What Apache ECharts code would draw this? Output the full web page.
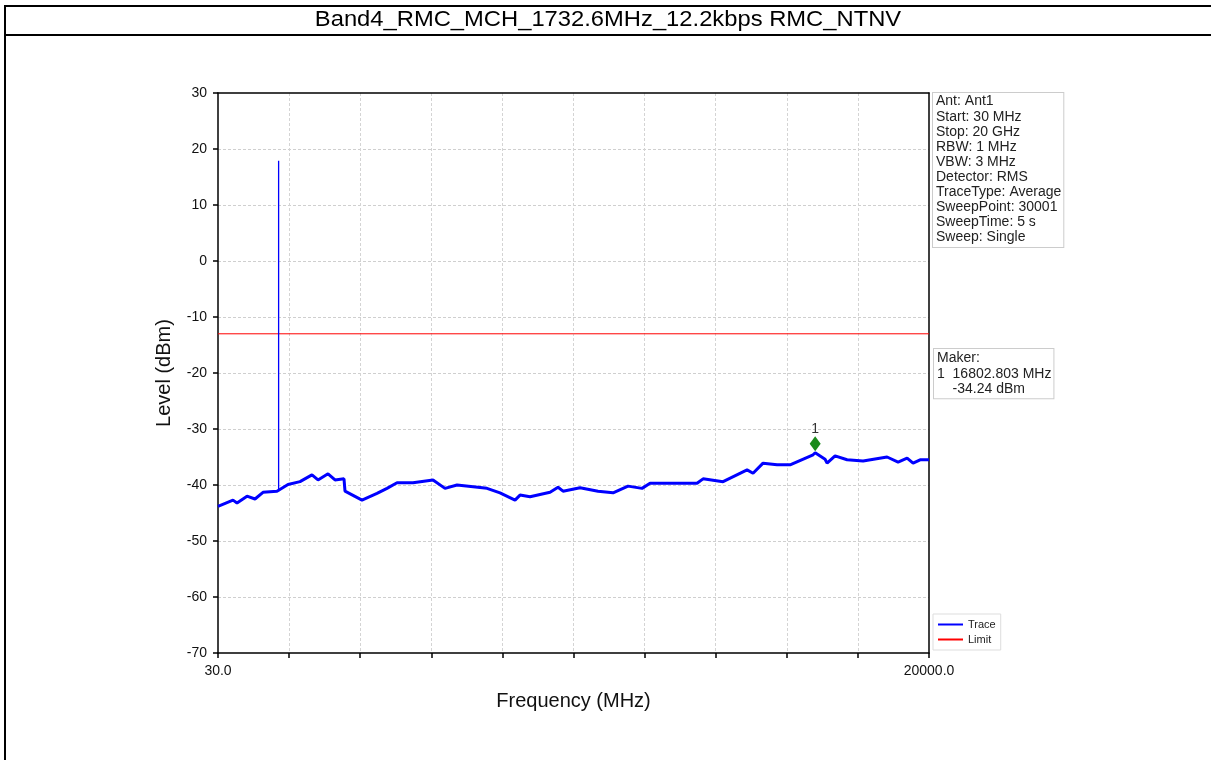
<!DOCTYPE html>
<html>
<head>
<meta charset="utf-8">
<script src="https://cdn.jsdelivr.net/npm/echarts@6/dist/echarts.min.js"></script>
<style>
html,body{margin:0;padding:0;background:#fff;}
#chart{width:1211px;height:760px;}
</style>
</head>
<body>
<div id="chart"></div>
<script>
const titleText = 'Band4_RMC_MCH_1732.6MHz_12.2kbps RMC_NTNV';
const freq = [30, 451, 564, 845, 1069, 1294, 1687, 1996, 2333, 2670, 2839, 3120, 3317, 3569, 3597, 4075, 4496, 4777, 5058, 5507, 6069, 6406, 6743, 7586, 7951, 8373, 8513, 8794, 9356, 9581, 9721, 10199, 10704, 11126, 11547, 11940, 12165, 13485, 13654, 14216, 14890, 15058, 15339, 15733, 16098, 16744, 16803, 17081, 17137, 17362, 17699, 18149, 18823, 19132, 19385, 19553, 19750, 20000];
const level = [-43.8, -42.7, -43.2, -42.0, -42.5, -41.3, -41.1, -39.9, -39.4, -38.2, -39.1, -38.0, -39.1, -38.9, -41.1, -42.7, -41.5, -40.6, -39.6, -39.6, -39.1, -40.6, -40.0, -40.6, -41.4, -42.7, -41.8, -42.1, -41.3, -40.4, -41.1, -40.5, -41.1, -41.4, -40.2, -40.6, -39.7, -39.7, -38.9, -39.4, -37.3, -37.9, -36.1, -36.4, -36.4, -34.6, -34.24, -35.4, -36.1, -34.8, -35.5, -35.7, -35.0, -35.9, -35.2, -36.1, -35.5, -35.5];
const spikeFreq = [1732.6, 1732.6];
const spikeLevel = [-41.1, 17.9];
const limitFreq = [30, 20000];
const limitLevel = [-13, -13];
const markerFreq = 16802.803;
const markerLevel = -34.24;
const xTickLabels = ['30.0', '20000.0'];
const infoLines = ['Ant: Ant1', 'Start: 30 MHz', 'Stop: 20 GHz', 'RBW: 1 MHz', 'VBW: 3 MHz', 'Detector: RMS', 'TraceType: Average', 'SweepPoint: 30001', 'SweepTime: 5 s', 'Sweep: Single'];
const makerLines = ['Maker:', '1  16802.803 MHz', '    -34.24 dBm'];

const FONT = '"Liberation Sans", Arial, sans-serif';
const chart = echarts.init(document.getElementById('chart'));
const zip = (a, b) => a.map((v, i) => [v, b[i]]);

chart.setOption({
  animation: false,
  backgroundColor: '#fff',
  textStyle: { fontFamily: FONT },
  grid: { left: 218, right: 282, top: 93, bottom: 107, show: false, containLabel: false },
  legend: {
    left: 933, top: 614, orient: 'vertical', itemGap: 4, itemWidth: 25, itemHeight: 2, icon: 'rect',
    padding: [5, 5, 5, 5], borderColor: '#ddd', borderWidth: 1, backgroundColor: '#fff',
    textStyle: { fontFamily: FONT, fontSize: 11, color: '#222' },
    data: ['Trace', 'Limit']
  },
  xAxis: [
    { type: 'value', min: 30, max: 20000, show: false },
    {
      type: 'value', position: 'bottom', min: 0, max: 19970, interval: 1997,
      axisLine: { show: true, onZero: false, lineStyle: { color: '#000', width: 1.5 } },
      axisTick: { show: true, length: 5, lineStyle: { color: '#000', width: 1.5 } },
      splitLine: { show: true, showMinLine: false, showMaxLine: false, lineStyle: { color: '#d4d4d4', width: 1, type: [3, 2] } },
      axisLabel: {
        margin: 11, fontSize: 14, color: '#111', fontFamily: FONT, showMinLabel: true, showMaxLabel: true,
        formatter: v => v === 0 ? xTickLabels[0] : (v === 19970 ? xTickLabels[1] : '')
      },
      name: 'Frequency (MHz)', nameLocation: 'middle', nameGap: 38,
      nameTextStyle: { fontSize: 20, color: '#111', fontFamily: FONT }
    },
    {
      type: 'value', position: 'top', min: 0, max: 19970,
      axisLine: { show: true, onZero: false, lineStyle: { color: '#000', width: 1.5 } },
      axisTick: { show: false }, axisLabel: { show: false }, splitLine: { show: false }
    }
  ],
  yAxis: [
    {
      type: 'value', min: -70, max: 30, interval: 10,
      axisLine: { show: true, onZero: false, lineStyle: { color: '#000', width: 1.5 } },
      axisTick: { show: true, length: 5, lineStyle: { color: '#000', width: 1.5 } },
      splitLine: { show: true, showMinLine: false, showMaxLine: false, lineStyle: { color: '#cfcfcf', width: 1, type: [3, 2] } },
      axisLabel: { margin: 11, fontSize: 14, color: '#111', fontFamily: FONT },
      name: 'Level (dBm)', nameLocation: 'middle', nameGap: 44,
      nameTextStyle: { fontSize: 20, color: '#111', fontFamily: FONT }
    },
    {
      type: 'value', position: 'right', min: -70, max: 30,
      axisLine: { show: true, onZero: false, lineStyle: { color: '#000', width: 1.5 } },
      axisTick: { show: false }, axisLabel: { show: false }, splitLine: { show: false }
    }
  ],
  series: [
    {
      name: 'Limit', type: 'line', xAxisIndex: 0, data: zip(limitFreq, limitLevel), symbol: 'none',
      lineStyle: { color: '#ff0000', width: 1 }, itemStyle: { color: '#ff0000' }, z: 2
    },
    {
      name: 'Spike', type: 'line', xAxisIndex: 0, data: zip(spikeFreq, spikeLevel), symbol: 'none',
      lineStyle: { color: '#0000ff', width: 1.3 }, itemStyle: { color: '#0000ff' }, z: 3
    },
    {
      name: 'Trace', type: 'line', xAxisIndex: 0, data: zip(freq, level), symbol: 'none',
      lineStyle: { color: '#0000ff', width: 3 }, itemStyle: { color: '#0000ff' }, z: 4,
      markPoint: {
        symbol: 'diamond', symbolSize: [11, 15], symbolOffset: [0, -9],
        itemStyle: { color: '#1a8a1a' },
        label: { show: true, position: 'top', distance: 0, formatter: '1', color: '#333', fontSize: 14, fontFamily: FONT },
        data: [{ coord: [markerFreq, markerLevel] }]
      }
    }
  ],
  graphic: [
    { type: 'line', shape: { x1: 5, y1: 6, x2: 5, y2: 760 }, style: { stroke: '#000', lineWidth: 2 } },
    { type: 'line', shape: { x1: 4, y1: 6, x2: 1211, y2: 6 }, style: { stroke: '#000', lineWidth: 2 } },
    { type: 'line', shape: { x1: 4, y1: 35, x2: 1211, y2: 35 }, style: { stroke: '#000', lineWidth: 2 } },
    { type: 'text', x: 608, y: 20, scaleX: 1.08, style: { text: titleText, font: '22px "Liberation Sans", Arial, sans-serif', fill: '#000', align: 'center', verticalAlign: 'middle' } },
    { type: 'text', x: 933, y: 93, style: { text: infoLines.join('\n'), font: '14px "Liberation Sans", Arial, sans-serif', lineHeight: 15.1, fill: '#222', padding: [1, 2, 2, 3], backgroundColor: '#fff', borderColor: '#ccc', borderWidth: 1 } },
    { type: 'text', x: 934, y: 349, style: { text: makerLines.join('\n'), font: '14px "Liberation Sans", Arial, sans-serif', lineHeight: 15.1, fill: '#222', padding: [2, 2, 2, 3], backgroundColor: '#fff', borderColor: '#ccc', borderWidth: 1 } }
  ]
});
</script>
</body>
</html>
